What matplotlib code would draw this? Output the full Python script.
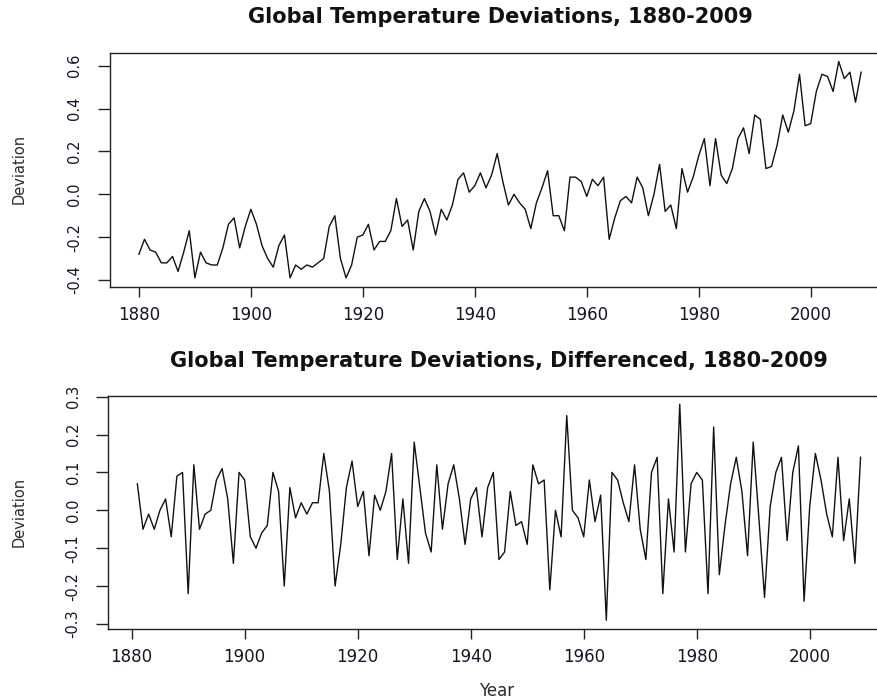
import numpy as np
import matplotlib
matplotlib.use('Agg')
import matplotlib.pyplot as plt

# Global temperature deviations (gtemp), 1880-2009
years = np.arange(1880, 2010)
gtemp = [
    -0.28, -0.21, -0.26, -0.27, -0.32, -0.32, -0.29, -0.36, -0.27, -0.17,
    -0.39, -0.27, -0.32, -0.33, -0.33, -0.25, -0.14, -0.11, -0.25, -0.15,
    -0.07, -0.14, -0.24, -0.30, -0.34, -0.24, -0.19, -0.39, -0.33, -0.35,
    -0.33, -0.34, -0.32, -0.30, -0.15, -0.10, -0.30, -0.39, -0.33, -0.20,
    -0.19, -0.14, -0.26, -0.22, -0.22, -0.17, -0.02, -0.15, -0.12, -0.26,
    -0.08, -0.02, -0.08, -0.19, -0.07, -0.12, -0.05, 0.07, 0.10, 0.01,
    0.04, 0.10, 0.03, 0.09, 0.19, 0.06, -0.05, 0.00, -0.04, -0.07,
    -0.16, -0.04, 0.03, 0.11, -0.10, -0.10, -0.17, 0.08, 0.08, 0.06,
    -0.01, 0.07, 0.04, 0.08, -0.21, -0.11, -0.03, -0.01, -0.04, 0.08,
    0.03, -0.10, 0.00, 0.14, -0.08, -0.05, -0.16, 0.12, 0.01, 0.08,
    0.18, 0.26, 0.04, 0.26, 0.09, 0.05, 0.12, 0.26, 0.31, 0.19,
    0.37, 0.35, 0.12, 0.13, 0.23, 0.37, 0.29, 0.39, 0.56, 0.32,
    0.33, 0.48, 0.56, 0.55, 0.48, 0.62, 0.54, 0.57, 0.43, 0.57,
]
top_yticks = [-0.4, -0.2, 0.0, 0.2, 0.4, 0.6]
bot_yticks = [-0.3, -0.2, -0.1, 0.0, 0.1, 0.2, 0.3]
xticks = [1880, 1900, 1920, 1940, 1960, 1980, 2000]

# first differences
gtemp = np.array(gtemp)
dgtemp = np.round(np.diff(gtemp), 2)
dyears = years[1:]

plt.rcParams['font.family'] = ['DejaVu Sans']
W, H = 878, 700
fig = plt.figure(figsize=(W / 100, H / 100), dpi=100)


def px_axes(left, top, right, bottom):
    return fig.add_axes([left / W, 1 - bottom / H, (right - left) / W, (bottom - top) / H])


def rlim(vals):
    # R style 4% padding
    lo, hi = min(vals), max(vals)
    d = (hi - lo) * 0.04
    return lo - d, hi + d


def style(ax, yticks, title, tpad):
    for s in ['left', 'bottom', 'top']:
        ax.spines[s].set_linewidth(1.0)
        ax.spines[s].set_color('#222222')
    ax.spines['right'].set_visible(False)
    ax.set_xticks(xticks)
    ax.set_yticks(yticks)
    ax.set_yticklabels([f'{v:.1f}' for v in yticks])
    ax.tick_params(axis='x', direction='out', length=7.5, width=1.0, pad=6.5, labelsize=12,
                   colors='#222222', labelcolor='#15152a')
    ax.tick_params(axis='y', direction='out', length=8.5, width=1.0, pad=11.5, labelsize=10.5,
                   colors='#222222', labelcolor='#15152a')
    plt.setp(ax.get_yticklabels(), rotation=90, va='center')
    ax.set_title(title, fontsize=15, fontweight='bold', pad=tpad, color='#111111')


# Top panel: raw series
ax1 = px_axes(110, 52.8, 890, 286.5)
ax1.plot(years, gtemp, color='#111111', lw=1.0)
ax1.set_xlim(rlim(years))
ax1.set_ylim(rlim(gtemp))
style(ax1, top_yticks, 'Global Temperature Deviations, 1880-2009', 21.5)

# Bottom panel: differenced series
ax2 = px_axes(108.4, 395.6, 889.5, 628.8)
ax2.plot(dyears, dgtemp, color='#111111', lw=1.0)
ax2.set_xlim(rlim(dyears))
ax2.set_ylim(rlim(dgtemp))
style(ax2, bot_yticks, 'Global Temperature Deviations, Differenced, 1880-2009', 20.5)

fig.text(19.5 / W, 1 - 169 / H, 'Deviation', rotation=90, ha='center', va='center',
         fontsize=10.5, color='#2a2a2a')
fig.text(19.5 / W, 1 - 512 / H, 'Deviation', rotation=90, ha='center', va='center',
         fontsize=10.5, color='#2a2a2a')
fig.text(497 / W, 1 - 691 / H, 'Year', ha='center', va='center', fontsize=12, color='#2a2a2a')

fig.savefig('out.png', dpi=100)
